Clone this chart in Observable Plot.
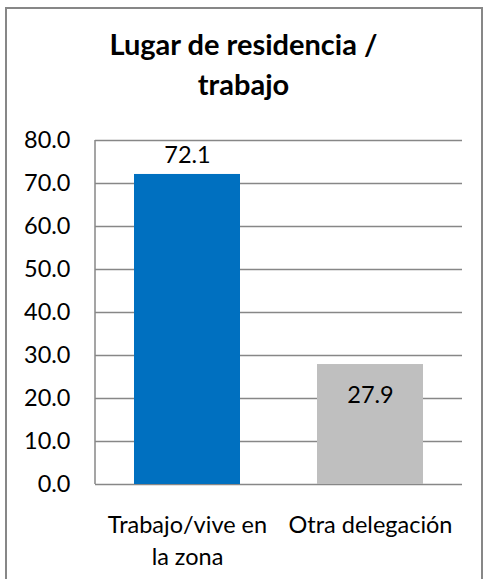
<!DOCTYPE html>
<html>
<head>
<meta charset="utf-8">
<script src="https://cdn.jsdelivr.net/npm/d3@7"></script>
<script src="https://cdn.jsdelivr.net/npm/@observablehq/plot@0.6"></script>
<style>
  html, body { margin: 0; padding: 0; background: #fff; width: 487px; height: 579px; overflow: hidden; }
  #frame { position: absolute; left: 5px; top: 7px; width: 478px; height: 600px; border: 2px solid #878787; box-sizing: border-box; }
  #title { position: absolute; left: 0; top: 24px; width: 487px; text-align: center; font-family: Lato, "Open Sans", sans-serif; font-weight: bold; font-size: 29px; line-height: 40px; color: #000; }
  #chart { position: absolute; left: 0; top: 0; }
</style>
</head>
<body>
<div id="frame"></div>
<div id="title">Lugar de residencia /<br>trabajo</div>
<div id="chart"></div>
<script>
const categories = ["Trabajo/vive en\nla zona", "Otra delegación"];
const values = [72.1, 27.9];
const barColors = ["#0070C0", "#BFBFBF"];
const yTicks = [0, 10, 20, 30, 40, 50, 60, 70, 80];

const data = categories.map((c, i) => ({cat: c, value: values[i], color: barColors[i]}));

const fontFamily = 'Lato, "Open Sans", sans-serif';
const fs = 23.5;

const chart = Plot.plot({
  width: 487,
  height: 579,
  marginLeft: 95,
  marginRight: 25,
  marginTop: 140,
  marginBottom: 95,
  style: {fontFamily, fontSize: fs + "px", color: "#000", background: "transparent"},
  x: {domain: categories, paddingInner: 0.42, paddingOuter: 0.21, label: null},
  y: {domain: [0, 80], label: null},
  color: {type: "identity"},
  marks: [
    Plot.gridY(yTicks, {stroke: "#878787", strokeOpacity: 1, strokeWidth: 1.5}),
    (index, scales, values, dimensions) => {
      const g = d3.create("svg:line")
        .attr("x1", dimensions.marginLeft).attr("x2", dimensions.marginLeft)
        .attr("y1", dimensions.marginTop).attr("y2", dimensions.height - dimensions.marginBottom)
        .attr("stroke", "#878787").attr("stroke-width", 1.5);
      return g.node();
    },
    Plot.barY(data, {x: "cat", y: "value", fill: "color"}),
    Plot.text(data.slice(0, 1), {x: "cat", y: "value", text: d => d.value.toFixed(1), dy: -19, fontSize: fs, fill: "#000"}),
    Plot.text(data.slice(1), {x: "cat", y: "value", text: d => d.value.toFixed(1), dy: 31, fontSize: fs, fill: "#000"}),
    Plot.axisY({ticks: yTicks, tickSize: 0, tickPadding: 25, tickFormat: d3.format(".1f"), fontSize: fs, fill: "#000", label: null}),
    Plot.axisX({tickSize: 0, tickPadding: 26, fontSize: fs, lineHeight: 1.36, fill: "#000", label: null})
  ]
});
document.getElementById("chart").appendChild(chart);
</script>
</body>
</html>
